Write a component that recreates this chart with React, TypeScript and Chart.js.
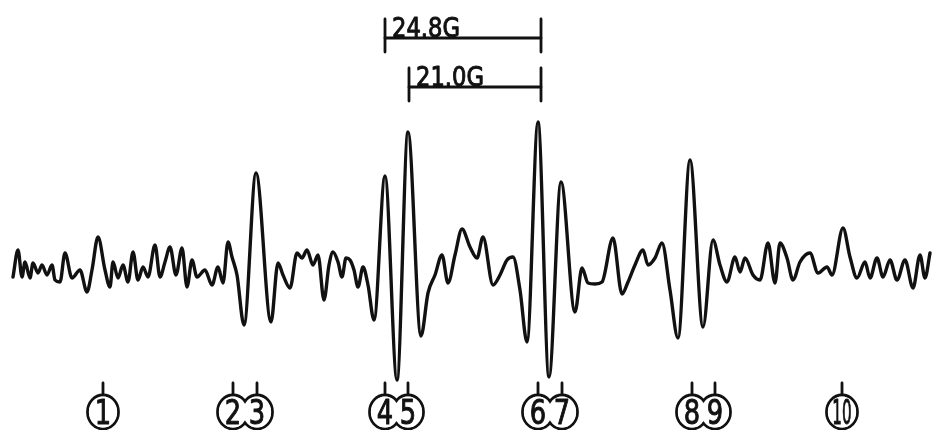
import React, { useEffect, useRef } from "react";
import { Chart, registerables } from "chart.js";

Chart.register(...registerables);

// Magnetic field position (trace units, ~6.27 units per gauss)
const fieldX = [
  13, 18, 22, 25, 30, 33, 38, 42, 47, 52, 55, 60, 65, 72, 80, 87, 92, 98, 105, 110,
  113, 118, 123, 128, 133, 138, 143, 148, 155, 160, 165, 170, 176, 182, 187, 192, 197, 205, 212, 218,
  223, 228, 232, 237, 244, 256, 271, 278, 283, 290, 297, 302, 307, 313, 318, 324, 329, 333, 338, 342,
  346, 350, 354, 358, 363, 368, 374, 385, 397, 408, 421, 428, 435, 442, 448, 455, 462, 470, 477, 483,
  493, 500, 507, 513, 520, 527, 538, 549, 561, 575, 582, 588, 595, 602, 613, 622, 628, 635, 643, 648,
  655, 662, 670, 678, 690, 703, 713, 720, 727, 735, 740, 745, 753, 760, 768, 775, 780, 787, 793, 800,
  810, 818, 827, 832, 843, 850, 857, 865, 870, 877, 883, 890, 897, 905, 913, 920, 925, 930,
];

// ESR derivative signal amplitude (arbitrary units)
const signal = [
  -15, 12, -15, 0, -16, -1, -11, -3, -13, -3, -18, -20, 9, -16, -8, -30, -8, 25, -8, -25,
  0, -16, -3, -20, 10, -18, -5, -15, 17, -15, 0, 15, -13, 14, -25, 2, -15, -8, -23, -5,
  -21, 20, 5, -13, -63, 89, -60, -1, -13, -26, 9, 4, 12, -3, 7, -38, -3, 10, 0, -15,
  4, 2, -8, -25, -5, -23, -58, 86, -118, 130, -74, -31, -13, 7, -21, 7, 33, 15, 4, 25,
  -23, -13, 2, 5, -28, -80, 140, -115, 80, -50, -6, -21, -22, -20, 24, -32, -20, -3, 12, -3,
  4, 19, -28, -76, 102, -65, 22, -3, -20, 5, -10, 4, -13, -18, 19, -21, 19, 4, -18, 0,
  9, -11, -5, -13, 34, 5, -16, 0, -16, 4, -15, 2, -18, 2, -26, 7, -16, 9,
];

// Hyperfine splitting scale bars
const barStart = [385, 409];
const barEnd = [541, 541];
const barLevel = [224, 175];
const barLabel = ["24.8G", "21.0G"];

// Numbered line positions
const lineX = [103, 233, 257, 385, 408, 538, 562, 692, 715, 842];
const lineLabel = ["1", "2", "3", "4", "5", "6", "7", "8", "9", "10"];
const labelLevel = -150;

const INK = "#111";

const annotations = {
  id: "annotations",
  afterDraw(chart: any) {
    const { ctx } = chart;
    const xs = chart.scales.x;
    const ys = chart.scales.y;
    ctx.save();
    ctx.strokeStyle = INK;
    ctx.fillStyle = INK;
    ctx.lineCap = "round";

    const line = (a: number, b: number, c: number, d: number) => {
      ctx.beginPath();
      ctx.moveTo(a, b);
      ctx.lineTo(c, d);
      ctx.stroke();
    };
    const squeezedText = (t: string, px: number, py: number, sx: number, align: CanvasTextAlign) => {
      ctx.save();
      ctx.translate(px, py);
      ctx.scale(sx, 1);
      ctx.textAlign = align;
      ctx.textBaseline = "alphabetic";
      ctx.lineWidth = 1;
      ctx.lineJoin = "round";
      ctx.fillText(t, 0, 0);
      ctx.strokeText(t, 0, 0);
      ctx.restore();
    };

    // scale bars
    ctx.lineWidth = 2.8;
    ctx.font = '27px "DejaVu Sans", sans-serif';
    barStart.forEach((s, i) => {
      const x0 = xs.getPixelForValue(s);
      const x1 = xs.getPixelForValue(barEnd[i]);
      const yy = ys.getPixelForValue(barLevel[i]);
      ctx.lineWidth = 2.8;
      line(x0, yy - 19, x0, yy + 14);
      line(x1, yy - 19, x1, yy + 14);
      line(x0, yy, x1, yy);
      squeezedText(barLabel[i], x0 + 7, yy - 1, 0.84, "left");
    });

    // numbered markers
    const cy = ys.getPixelForValue(labelLevel);
    const rx = 15.5;
    const ry = 17;
    ctx.lineWidth = 2.8;
    lineX.forEach((v) => {
      const px = xs.getPixelForValue(v);
      line(px, cy - ry - 12, px, cy - ry);
      ctx.beginPath();
      ctx.ellipse(px, cy, rx, ry, 0, 0, Math.PI * 2);
      ctx.stroke();
    });
    ctx.fillStyle = "#fff";
    lineX.forEach((v) => {
      const px = xs.getPixelForValue(v);
      ctx.beginPath();
      ctx.ellipse(px, cy, rx - 1.4, ry - 1.4, 0, 0, Math.PI * 2);
      ctx.fill();
    });
    ctx.fillStyle = INK;
    ctx.strokeStyle = INK;
    ctx.font = '33px "DejaVu Sans", sans-serif';
    lineX.forEach((v, i) => {
      const px = xs.getPixelForValue(v);
      const t = lineLabel[i];
      squeezedText(t, px, cy + 12, t.length > 1 ? 0.46 : 0.78, "center");
    });
    ctx.restore();
  },
};

export default function App() {
  const ref = useRef<HTMLCanvasElement | null>(null);
  useEffect(() => {
    document.body.style.margin = "0";
    document.body.style.background = "#fff";
    if (!ref.current) return;
    const chart = new Chart(ref.current, {
      type: "line",
      data: {
        datasets: [
          {
            data: fieldX.map((x, i) => ({ x, y: signal[i] })),
            borderColor: INK,
            borderWidth: 3.4,
            borderJoinStyle: "round",
            borderCapStyle: "round",
            pointRadius: 0,
            cubicInterpolationMode: "monotone",
            fill: false,
          },
        ],
      },
      options: {
        animation: false,
        responsive: false,
        layout: { padding: 0 },
        scales: {
          x: { type: "linear", min: 0, max: 932, display: false },
          y: { type: "linear", min: -168, max: 262, display: false },
        },
        plugins: { legend: { display: false }, tooltip: { enabled: false } },
      },
      plugins: [annotations],
    });
    return () => chart.destroy();
  }, []);
  return (
    <div style={{ width: 932, height: 430, background: "#fff" }}>
      <canvas ref={ref} width={932} height={430} />
    </div>
  );
}
